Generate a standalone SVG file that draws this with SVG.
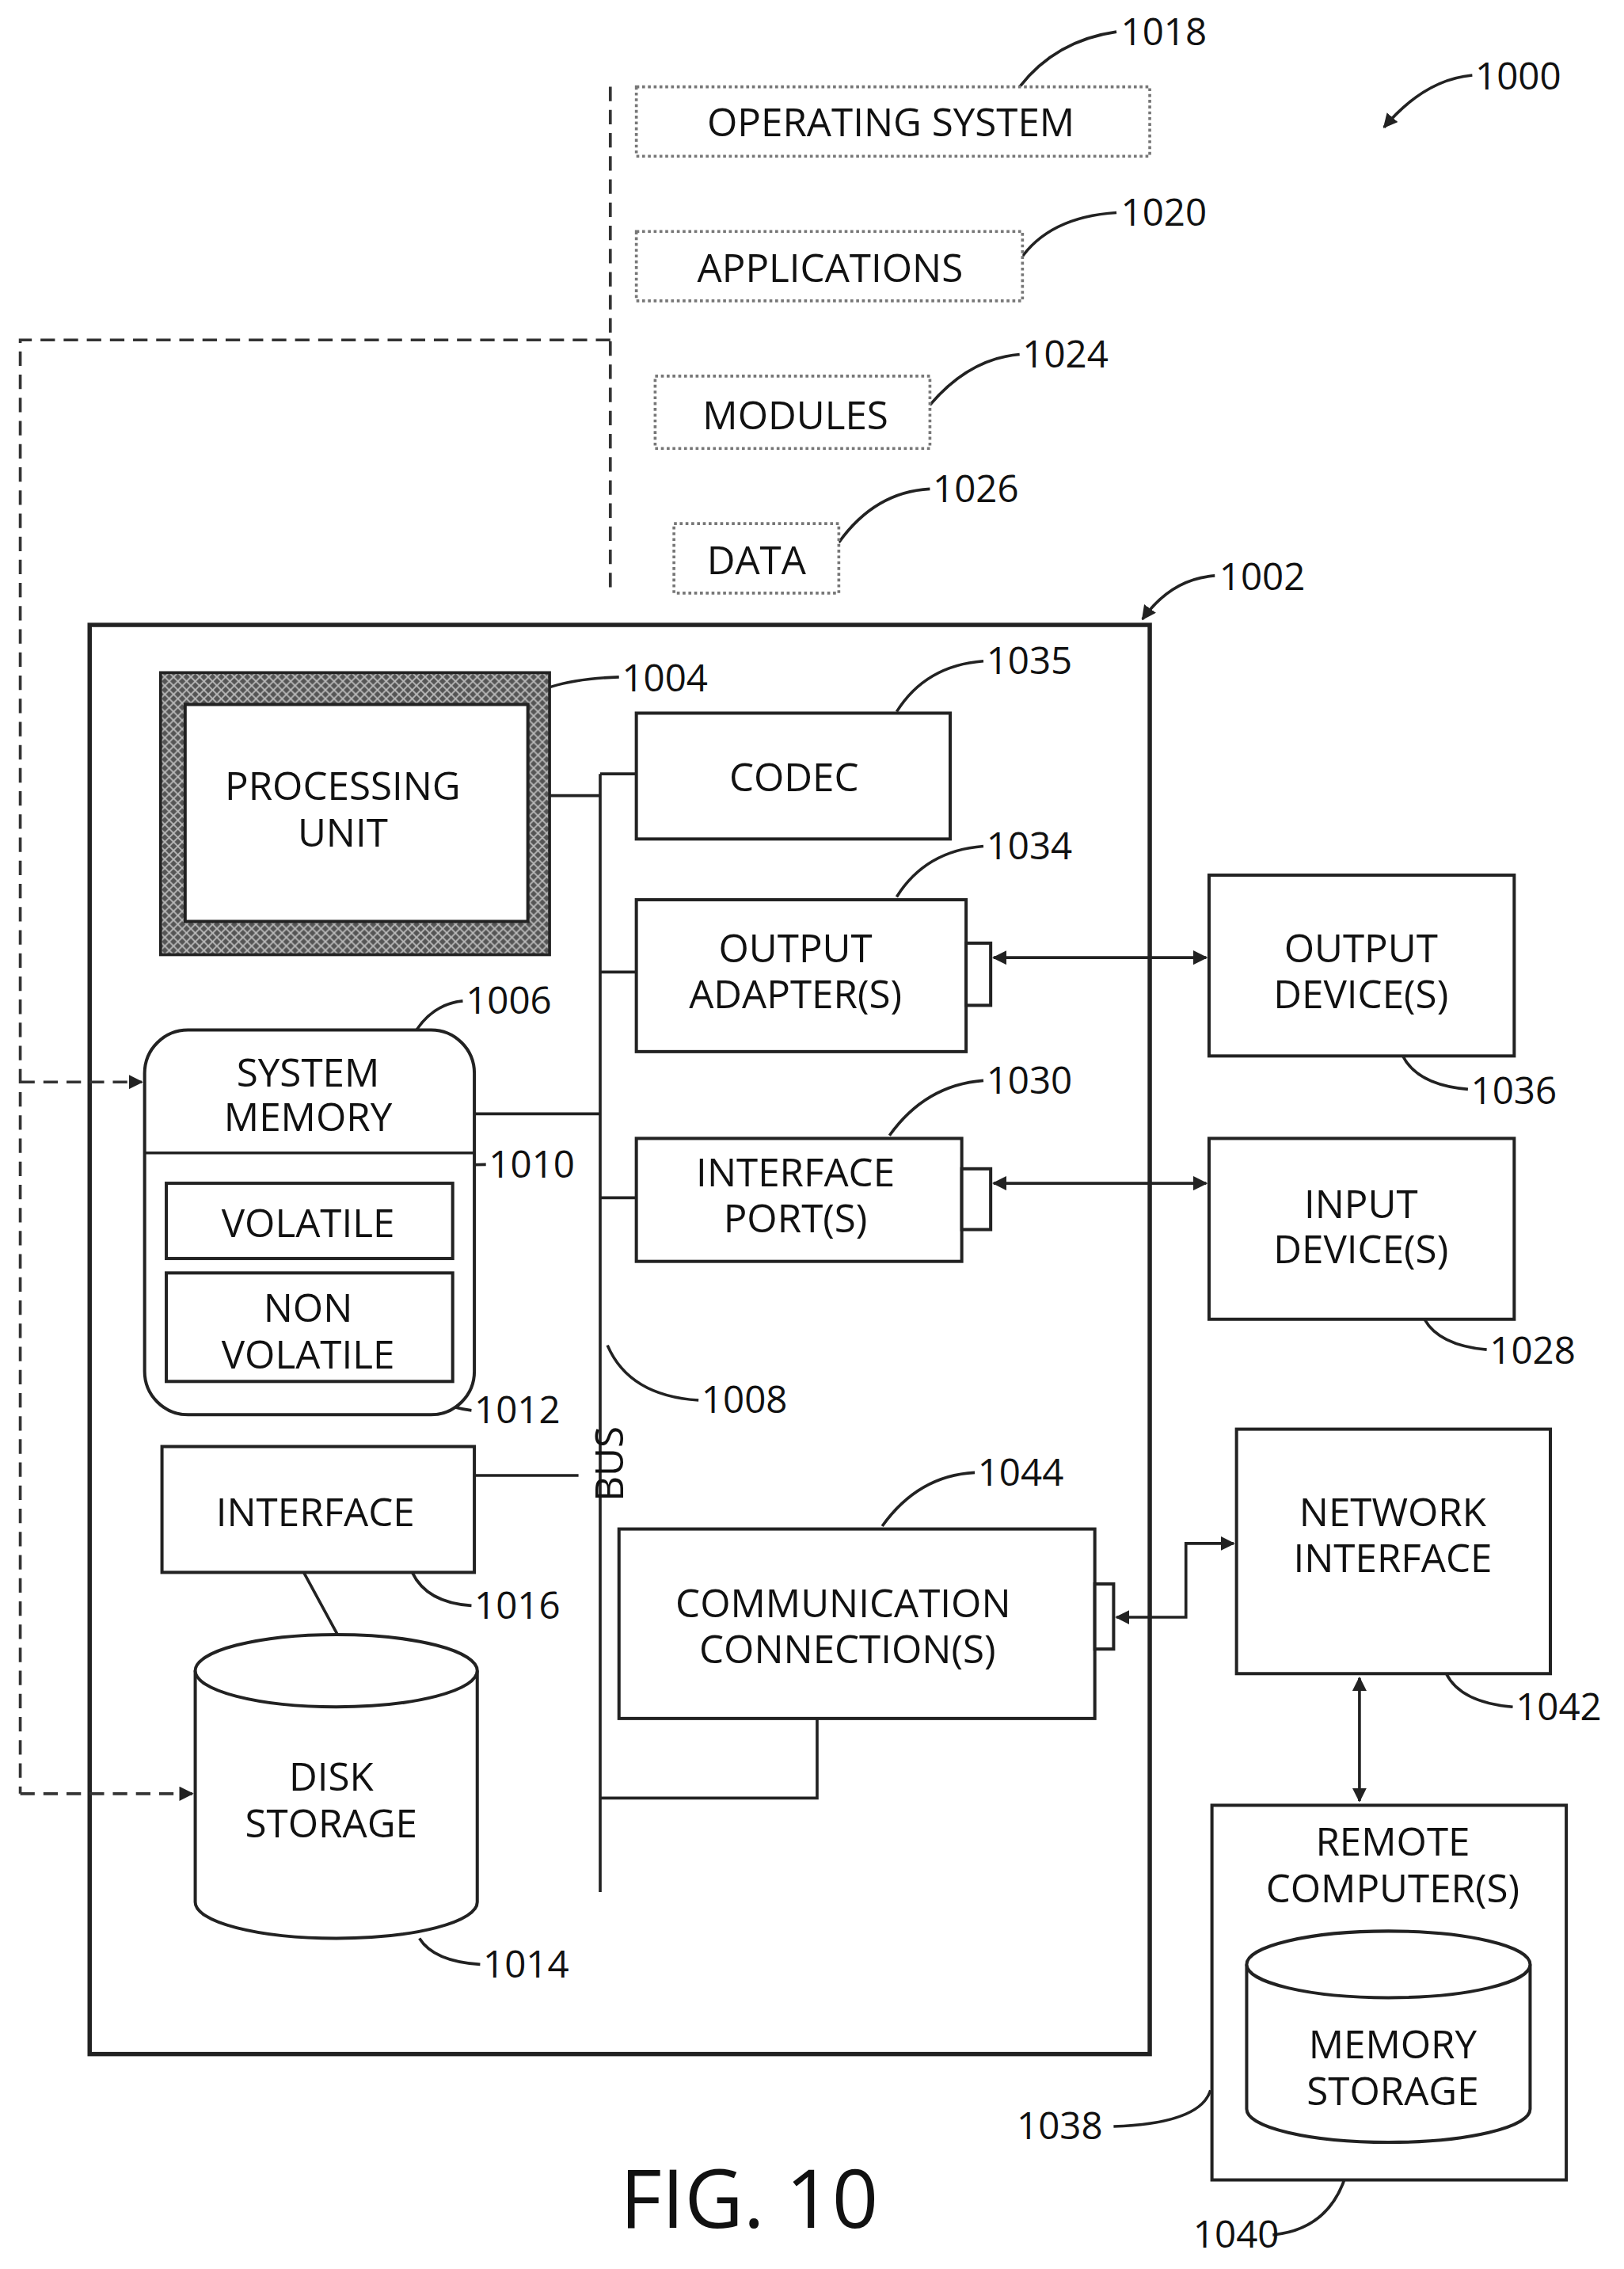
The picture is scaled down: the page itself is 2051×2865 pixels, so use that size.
<svg xmlns="http://www.w3.org/2000/svg" width="2051" height="2865" viewBox="0 0 2051 2865">
<defs>
<style>
.b{fill:#fff;stroke:#222;stroke-width:2.2}
.d{fill:#fff;stroke:#777;stroke-width:2;stroke-dasharray:2 2}
.l{fill:none;stroke:#222;stroke-width:2}
.dl{fill:none;stroke:#333;stroke-width:2;stroke-dasharray:10 6}
.t{font-family:"Open Sans","Liberation Sans",sans-serif;font-size:27px;fill:#111;text-anchor:middle}
.n{font-family:"Open Sans","Liberation Sans",sans-serif;font-size:26px;fill:#111}
</style>
<marker id="a" markerWidth="10" markerHeight="10" refX="9" refY="5" orient="auto-start-reverse" markerUnits="userSpaceOnUse"><path d="M0,0 L10,5 L0,10 z" fill="#222"/></marker>
<pattern id="h" width="6" height="6" patternUnits="userSpaceOnUse"><rect width="6" height="6" fill="#555"/><path d="M0,6 L6,0 M0,0 L6,6" stroke="#bbb" stroke-width="1"/></pattern>
</defs>
<rect width="2051" height="2865" fill="#fff"/>
<g transform="scale(1.8265)">
<g id="n1002"><rect x="62" y="432" width="733" height="988" fill="none" stroke="#222" stroke-width="3"/><text class="n" x="843" y="408">1002</text></g>
<g id="connectors">
<path class="dl" d="M422,60 V410 M422,235 H14 V1240"/>
<path class="dl" d="M14,748 H98" marker-end="url(#a)"/>
<path class="dl" d="M14,1240 H133" marker-end="url(#a)"/>
<path class="l" d="M415,535 V1308" stroke-width="3"/>
<path class="l" d="M380,550 H415 M415,535 H440 M415,672 H440 M415,828 H440 M328,770 H415 M328,1020 H400 M415,1243 H565 V1188 M210,1087 L235,1133"/>
<path class="l" d="M687,662 H834" marker-start="url(#a)" marker-end="url(#a)"/>
<path class="l" d="M687,818 H834" marker-start="url(#a)" marker-end="url(#a)"/>
<path class="l" d="M772,1118 H820 V1067 H853" marker-start="url(#a)" marker-end="url(#a)"/>
<path class="l" d="M940,1160 V1245" marker-start="url(#a)" marker-end="url(#a)"/>
<path class="l" d="M705,60 Q730,28 772,22 M705,180 Q725,150 772,147 M643,280 Q670,248 705,245 M580,375 Q605,340 643,338 M620,492 Q640,460 680,457 M620,620 Q640,588 680,585 M615,785 Q640,750 680,747 M610,1055 Q635,1020 674,1018 M970,730 Q980,750 1015,753 M985,912 Q995,930 1028,933 M1000,1157 Q1010,1177 1046,1180 M285,1087 Q295,1108 326,1110 M290,1340 Q300,1356 332,1358 M837,1445 Q830,1468 770,1470 M935,1480 Q930,1540 880,1545 M420,930 Q435,965 483,968 M292,818 Q300,805 336,805 M285,955 Q300,972 326,975 M288,712 Q300,694 320,692 M360,487 Q375,470 428,468"/>
<path class="l" d="M840,398 Q810,400 790,428" marker-end="url(#a)"/>
<path class="l" d="M1018,52 Q985,55 957,88" marker-end="url(#a)"/>
</g>
<g id="n1018"><rect class="d" x="440" y="60" width="355" height="48"/><text class="t" x="616" y="94">OPERATING SYSTEM</text><text class="n" x="775" y="31">1018</text></g>
<g id="n1020"><rect class="d" x="440" y="160" width="267" height="48"/><text class="t" x="574" y="195">APPLICATIONS</text><text class="n" x="775" y="156">1020</text></g>
<g id="n1024"><rect class="d" x="453" y="260" width="190" height="50"/><text class="t" x="550" y="297">MODULES</text><text class="n" x="707" y="254">1024</text></g>
<g id="n1026"><rect class="d" x="466" y="362" width="114" height="48"/><text class="t" x="523" y="397">DATA</text><text class="n" x="645" y="347">1026</text></g>
<g id="n1000"><text class="n" x="1020" y="62">1000</text></g>
<g id="n1004"><rect x="111" y="465" width="269" height="195" fill="url(#h)" stroke="#222" stroke-width="2"/><rect class="b" x="128" y="487" width="237" height="150"/><text class="t" x="237" y="553">PROCESSING</text><text class="t" x="237" y="585">UNIT</text><text class="n" x="430" y="478">1004</text></g>
<g id="n1035"><rect class="b" x="440" y="493" width="217" height="87"/><text class="t" x="549" y="547">CODEC</text><text class="n" x="682" y="466">1035</text></g>
<g id="n1034"><rect class="b" x="440" y="622" width="228" height="105"/><rect class="b" x="668" y="652" width="17" height="43"/><text class="t" x="550" y="665">OUTPUT</text><text class="t" x="550" y="697">ADAPTER(S)</text><text class="n" x="682" y="594">1034</text></g>
<g id="n1036"><rect class="b" x="836" y="605" width="211" height="125"/><text class="t" x="941" y="665">OUTPUT</text><text class="t" x="941" y="697">DEVICE(S)</text><text class="n" x="1017" y="763">1036</text></g>
<g id="n1030"><rect class="b" x="440" y="787" width="225" height="85"/><rect class="b" x="665" y="808" width="20" height="42"/><text class="t" x="550" y="820">INTERFACE</text><text class="t" x="550" y="852">PORT(S)</text><text class="n" x="682" y="756">1030</text></g>
<g id="n1028"><rect class="b" x="836" y="787" width="211" height="125"/><text class="t" x="941" y="842">INPUT</text><text class="t" x="941" y="873">DEVICE(S)</text><text class="n" x="1030" y="943">1028</text></g>
<g id="n1006"><rect class="b" x="100" y="712" width="228" height="266" rx="30"/><path class="l" d="M100,797 H328"/><text class="t" x="213" y="751">SYSTEM</text><text class="t" x="213" y="782">MEMORY</text><text class="n" x="322" y="701">1006</text></g>
<g id="n1010"><rect class="b" x="115" y="818" width="198" height="52"/><text class="t" x="213" y="855">VOLATILE</text><text class="n" x="338" y="814">1010</text></g>
<g id="n1012"><rect class="b" x="115" y="880" width="198" height="75"/><text class="t" x="213" y="914">NON</text><text class="t" x="213" y="946">VOLATILE</text><text class="n" x="328" y="984">1012</text></g>
<g id="n1008"><text class="t" transform="translate(431,1012) rotate(-90)">BUS</text><text class="n" x="485" y="977">1008</text></g>
<g id="n1016"><rect class="b" x="112" y="1000" width="216" height="87"/><text class="t" x="218" y="1055">INTERFACE</text><text class="n" x="328" y="1119">1016</text></g>
<g id="n1014"><path class="b" d="M135,1155 V1315 A97.5,25 0 0 0 330,1315 V1155"/><ellipse class="b" cx="232.5" cy="1155" rx="97.5" ry="25"/><text class="t" x="229" y="1238">DISK</text><text class="t" x="229" y="1270">STORAGE</text><text class="n" x="334" y="1367">1014</text></g>
<g id="n1044"><rect class="b" x="428" y="1057" width="329" height="131"/><rect class="b" x="757" y="1095" width="13" height="45"/><text class="t" x="583" y="1118">COMMUNICATION</text><text class="t" x="586" y="1150">CONNECTION(S)</text><text class="n" x="676" y="1027">1044</text></g>
<g id="n1042"><rect class="b" x="855" y="988" width="217" height="169"/><text class="t" x="963" y="1055">NETWORK</text><text class="t" x="963" y="1087">INTERFACE</text><text class="n" x="1048" y="1189">1042</text></g>
<g id="n1038"><rect class="b" x="838" y="1248" width="245" height="259"/><text class="t" x="963" y="1283">REMOTE</text><text class="t" x="963" y="1315">COMPUTER(S)</text><text class="n" x="703" y="1479">1038</text></g>
<g id="n1040"><path class="b" d="M862,1358 V1458 A98,23 0 0 0 1058,1458 V1358"/><ellipse class="b" cx="960" cy="1358" rx="98" ry="23"/><text class="t" x="963" y="1423">MEMORY</text><text class="t" x="963" y="1455">STORAGE</text><text class="n" x="825" y="1554">1040</text></g>
<text x="518" y="1540" style="font-family:'Open Sans','Liberation Sans',sans-serif;font-size:56px;fill:#111;text-anchor:middle">FIG. 10</text>
</g>
</svg>
